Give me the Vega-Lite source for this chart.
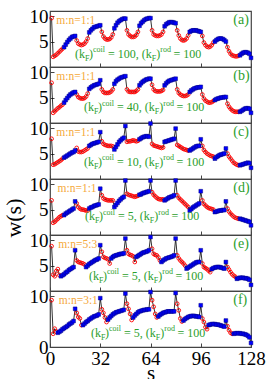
{
"$schema":"https://vega.github.io/schema/vega-lite/v6.json",
"padding":{"left":3,"top":6,"right":0,"bottom":11},
"background":"white",
"spacing":0,
"bounds":"flush",
"title":{"text":"w(s)","orient":"left","anchor":"middle","font":"Liberation Serif","fontSize":22,"fontWeight":"normal","color":"black","offset":2,"dx":-23},
"datasets":{
"pts":[
{"s":1,"a":9.6,"b":7.9,"c":7.9,"d":6.8,"e":8.8,"f":9.2,"k11":"r","k53":"r","k31":"r"},
{"s":2,"a":2.0,"b":2.0,"c":2.8,"d":2.4,"e":3.2,"f":2.6,"k11":"r","k53":"r","k31":"r"},
{"s":3,"a":2.2,"b":2.3,"c":2.9,"d":2.6,"e":2.9,"f":3.6,"k11":"r","k53":"r","k31":"r"},
{"s":4,"a":2.4,"b":2.6,"c":3.1,"d":2.9,"e":3.9,"f":3.0,"k11":"r","k53":"r","k31":"r"},
{"s":5,"a":2.7,"b":2.9,"c":3.3,"d":3.2,"e":4.3,"f":2.8,"k11":"r","k53":"r","k31":"b"},
{"s":6,"a":3.0,"b":3.1,"c":3.5,"d":3.5,"e":3.1,"f":3.0,"k11":"r","k53":"r","k31":"b"},
{"s":7,"a":3.3,"b":3.4,"c":3.7,"d":3.7,"e":2.9,"f":3.2,"k11":"r","k53":"b","k31":"b"},
{"s":8,"a":3.6,"b":3.6,"c":4.0,"d":3.9,"e":3.1,"f":3.5,"k11":"r","k53":"b","k31":"b"},
{"s":9,"a":3.9,"b":4.0,"c":4.2,"d":3.9,"e":3.3,"f":3.7,"k11":"b","k53":"b","k31":"b"},
{"s":10,"a":4.4,"b":4.5,"c":4.4,"d":4.2,"e":3.6,"f":3.9,"k11":"b","k53":"b","k31":"b"},
{"s":11,"a":4.9,"b":4.9,"c":4.6,"d":4.4,"e":3.8,"f":4.1,"k11":"b","k53":"b","k31":"b"},
{"s":12,"a":5.3,"b":5.3,"c":4.8,"d":4.6,"e":4.1,"f":4.4,"k11":"b","k53":"b","k31":"b"},
{"s":13,"a":5.6,"b":5.6,"c":5.0,"d":4.8,"e":4.3,"f":4.6,"k11":"b","k53":"b","k31":"b"},
{"s":14,"a":5.9,"b":5.8,"c":5.2,"d":5.0,"e":4.5,"f":4.8,"k11":"b","k53":"b","k31":"b"},
{"s":15,"a":6.0,"b":6.0,"c":5.3,"d":5.2,"e":4.7,"f":5.1,"k11":"b","k53":"b","k31":"b"},
{"s":16,"a":6.1,"b":6.1,"c":5.6,"d":6.6,"e":8.0,"f":7.5,"k11":"b","k53":"b","k31":"b"},
{"s":17,"a":5.2,"b":5.6,"c":6.1,"d":6.2,"e":6.0,"f":6.7,"k11":"r","k53":"r","k31":"r"},
{"s":18,"a":4.6,"b":5.1,"c":5.4,"d":5.5,"e":5.7,"f":5.9,"k11":"r","k53":"r","k31":"r"},
{"s":19,"a":4.4,"b":4.9,"c":5.3,"d":5.2,"e":5.6,"f":5.6,"k11":"r","k53":"r","k31":"r"},
{"s":20,"a":4.3,"b":4.8,"c":5.3,"d":5.0,"e":5.5,"f":4.3,"k11":"r","k53":"r","k31":"r"},
{"s":21,"a":4.4,"b":4.8,"c":5.4,"d":5.0,"e":5.4,"f":4.3,"k11":"r","k53":"r","k31":"b"},
{"s":22,"a":4.6,"b":4.9,"c":5.6,"d":4.9,"e":5.2,"f":4.6,"k11":"r","k53":"r","k31":"b"},
{"s":23,"a":5.0,"b":5.2,"c":5.8,"d":4.8,"e":4.7,"f":4.9,"k11":"r","k53":"b","k31":"b"},
{"s":24,"a":5.6,"b":5.8,"c":6.0,"d":4.8,"e":5.0,"f":5.1,"k11":"r","k53":"b","k31":"b"},
{"s":25,"a":6.8,"b":6.7,"c":6.5,"d":5.2,"e":5.3,"f":5.4,"k11":"b","k53":"b","k31":"b"},
{"s":26,"a":7.2,"b":7.0,"c":6.7,"d":5.4,"e":5.5,"f":5.6,"k11":"b","k53":"b","k31":"b"},
{"s":27,"a":7.5,"b":7.2,"c":6.9,"d":5.5,"e":5.7,"f":5.8,"k11":"b","k53":"b","k31":"b"},
{"s":28,"a":7.8,"b":7.4,"c":7.0,"d":5.7,"e":5.9,"f":6.0,"k11":"b","k53":"b","k31":"b"},
{"s":29,"a":7.9,"b":7.5,"c":7.1,"d":5.8,"e":6.1,"f":6.1,"k11":"b","k53":"b","k31":"b"},
{"s":30,"a":8.0,"b":7.6,"c":7.2,"d":5.9,"e":6.2,"f":6.2,"k11":"b","k53":"b","k31":"b"},
{"s":31,"a":8.1,"b":7.7,"c":7.3,"d":6.0,"e":6.4,"f":6.4,"k11":"b","k53":"b","k31":"b"},
{"s":32,"a":8.2,"b":8.4,"c":9.2,"d":9.1,"e":9.0,"f":9.6,"k11":"b","k53":"b","k31":"b"},
{"s":33,"a":6.9,"b":6.6,"c":7.4,"d":7.8,"e":7.7,"f":7.4,"k11":"r","k53":"r","k31":"r"},
{"s":34,"a":6.0,"b":6.1,"c":6.9,"d":7.2,"e":6.7,"f":6.7,"k11":"r","k53":"r","k31":"r"},
{"s":35,"a":5.6,"b":5.9,"c":6.7,"d":7.0,"e":6.5,"f":5.8,"k11":"r","k53":"r","k31":"r"},
{"s":36,"a":5.4,"b":5.9,"c":6.6,"d":6.9,"e":6.4,"f":4.9,"k11":"r","k53":"r","k31":"r"},
{"s":37,"a":5.4,"b":5.9,"c":6.5,"d":6.8,"e":6.2,"f":5.4,"k11":"r","k53":"r","k31":"b"},
{"s":38,"a":5.5,"b":6.0,"c":6.5,"d":6.8,"e":5.4,"f":5.8,"k11":"r","k53":"r","k31":"b"},
{"s":39,"a":5.8,"b":6.2,"c":6.5,"d":6.8,"e":6.4,"f":6.1,"k11":"r","k53":"b","k31":"b"},
{"s":40,"a":6.4,"b":6.6,"c":6.4,"d":6.8,"e":6.7,"f":6.4,"k11":"r","k53":"b","k31":"b"},
{"s":41,"a":7.6,"b":7.7,"c":5.8,"d":5.5,"e":6.9,"f":6.6,"k11":"b","k53":"b","k31":"b"},
{"s":42,"a":8.2,"b":8.2,"c":6.3,"d":5.9,"e":7.0,"f":6.8,"k11":"b","k53":"b","k31":"b"},
{"s":43,"a":8.7,"b":8.5,"c":6.8,"d":6.3,"e":7.1,"f":6.9,"k11":"b","k53":"b","k31":"b"},
{"s":44,"a":9.0,"b":8.7,"c":7.3,"d":6.7,"e":7.2,"f":7.0,"k11":"b","k53":"b","k31":"b"},
{"s":45,"a":9.2,"b":8.9,"c":7.6,"d":7.0,"e":7.3,"f":7.1,"k11":"b","k53":"b","k31":"b"},
{"s":46,"a":9.4,"b":9.0,"c":7.9,"d":7.3,"e":7.3,"f":7.2,"k11":"b","k53":"b","k31":"b"},
{"s":47,"a":9.5,"b":9.1,"c":8.1,"d":7.5,"e":7.4,"f":7.3,"k11":"b","k53":"b","k31":"b"},
{"s":48,"a":9.5,"b":9.2,"c":10.4,"d":10.7,"e":10.3,"f":10.5,"k11":"b","k53":"b","k31":"b"},
{"s":49,"a":7.2,"b":6.6,"c":7.3,"d":8.1,"e":8.0,"f":8.5,"k11":"r","k53":"r","k31":"r"},
{"s":50,"a":6.4,"b":6.2,"c":7.4,"d":7.9,"e":7.3,"f":7.5,"k11":"r","k53":"r","k31":"r"},
{"s":51,"a":6.1,"b":6.1,"c":7.4,"d":7.8,"e":7.1,"f":6.5,"k11":"r","k53":"r","k31":"r"},
{"s":52,"a":5.9,"b":6.1,"c":7.5,"d":7.7,"e":7.0,"f":5.3,"k11":"r","k53":"r","k31":"r"},
{"s":53,"a":5.9,"b":6.1,"c":7.6,"d":7.6,"e":6.8,"f":5.8,"k11":"r","k53":"r","k31":"b"},
{"s":54,"a":6.0,"b":6.1,"c":7.5,"d":7.5,"e":5.7,"f":6.2,"k11":"r","k53":"r","k31":"b"},
{"s":55,"a":6.3,"b":6.3,"c":7.4,"d":7.6,"e":6.7,"f":6.5,"k11":"r","k53":"b","k31":"b"},
{"s":56,"a":6.9,"b":6.6,"c":7.5,"d":7.7,"e":6.9,"f":6.8,"k11":"r","k53":"b","k31":"b"},
{"s":57,"a":8.1,"b":7.4,"c":7.8,"d":7.9,"e":7.1,"f":7.0,"k11":"b","k53":"b","k31":"b"},
{"s":58,"a":8.6,"b":7.8,"c":8.0,"d":8.0,"e":7.3,"f":7.1,"k11":"b","k53":"b","k31":"b"},
{"s":59,"a":8.9,"b":8.1,"c":8.2,"d":8.2,"e":7.5,"f":7.2,"k11":"b","k53":"b","k31":"b"},
{"s":60,"a":9.2,"b":8.3,"c":8.3,"d":8.3,"e":7.6,"f":7.3,"k11":"b","k53":"b","k31":"b"},
{"s":61,"a":9.4,"b":8.5,"c":8.4,"d":8.4,"e":7.7,"f":7.3,"k11":"b","k53":"b","k31":"b"},
{"s":62,"a":9.5,"b":8.6,"c":8.4,"d":8.5,"e":7.8,"f":7.4,"k11":"b","k53":"b","k31":"b"},
{"s":63,"a":9.6,"b":8.7,"c":8.3,"d":8.6,"e":8.0,"f":7.4,"k11":"b","k53":"b","k31":"b"},
{"s":64,"a":9.6,"b":8.7,"c":10.9,"d":10.7,"e":10.6,"f":10.8,"k11":"b","k53":"b","k31":"b"},
{"s":65,"a":7.2,"b":7.5,"c":6.9,"d":8.4,"e":8.3,"f":9.2,"k11":"r","k53":"r","k31":"r"},
{"s":66,"a":6.4,"b":6.6,"c":6.6,"d":7.9,"e":7.3,"f":7.9,"k11":"r","k53":"r","k31":"r"},
{"s":67,"a":6.2,"b":6.3,"c":6.5,"d":7.6,"e":7.1,"f":6.5,"k11":"r","k53":"r","k31":"r"},
{"s":68,"a":6.1,"b":6.2,"c":6.4,"d":7.3,"e":7.0,"f":5.8,"k11":"r","k53":"r","k31":"r"},
{"s":69,"a":6.1,"b":6.2,"c":6.3,"d":7.1,"e":6.6,"f":6.0,"k11":"r","k53":"r","k31":"b"},
{"s":70,"a":6.2,"b":6.2,"c":6.2,"d":7.0,"e":6.0,"f":6.3,"k11":"r","k53":"r","k31":"b"},
{"s":71,"a":6.4,"b":6.3,"c":6.1,"d":7.0,"e":5.7,"f":6.5,"k11":"r","k53":"b","k31":"b"},
{"s":72,"a":6.9,"b":6.5,"c":6.2,"d":7.0,"e":6.0,"f":6.7,"k11":"r","k53":"b","k31":"b"},
{"s":73,"a":8.0,"b":7.4,"c":7.3,"d":6.8,"e":6.2,"f":6.8,"k11":"b","k53":"b","k31":"b"},
{"s":74,"a":8.4,"b":7.8,"c":7.4,"d":7.0,"e":6.4,"f":6.9,"k11":"b","k53":"b","k31":"b"},
{"s":75,"a":8.6,"b":8.1,"c":7.5,"d":7.2,"e":6.5,"f":7.0,"k11":"b","k53":"b","k31":"b"},
{"s":76,"a":8.8,"b":8.3,"c":7.6,"d":7.4,"e":6.6,"f":7.0,"k11":"b","k53":"b","k31":"b"},
{"s":77,"a":8.8,"b":8.4,"c":7.7,"d":7.5,"e":6.7,"f":7.0,"k11":"b","k53":"b","k31":"b"},
{"s":78,"a":8.8,"b":8.5,"c":7.8,"d":7.6,"e":6.8,"f":7.0,"k11":"b","k53":"b","k31":"b"},
{"s":79,"a":8.7,"b":8.6,"c":7.9,"d":7.8,"e":7.0,"f":7.0,"k11":"b","k53":"b","k31":"b"},
{"s":80,"a":8.6,"b":8.7,"c":9.9,"d":10.7,"e":10.3,"f":10.6,"k11":"b","k53":"b","k31":"b"},
{"s":81,"a":7.2,"b":6.6,"c":6.7,"d":7.8,"e":7.0,"f":8.5,"k11":"r","k53":"r","k31":"r"},
{"s":82,"a":6.2,"b":5.9,"c":6.5,"d":7.3,"e":6.4,"f":7.2,"k11":"r","k53":"r","k31":"r"},
{"s":83,"a":5.6,"b":5.6,"c":6.3,"d":7.0,"e":6.0,"f":5.6,"k11":"r","k53":"r","k31":"r"},
{"s":84,"a":5.3,"b":5.4,"c":6.1,"d":6.7,"e":5.7,"f":5.0,"k11":"r","k53":"r","k31":"r"},
{"s":85,"a":5.2,"b":5.3,"c":5.9,"d":6.4,"e":5.4,"f":5.2,"k11":"r","k53":"r","k31":"b"},
{"s":86,"a":5.3,"b":5.3,"c":5.8,"d":6.1,"e":5.0,"f":5.5,"k11":"r","k53":"r","k31":"b"},
{"s":87,"a":5.6,"b":5.4,"c":5.7,"d":5.8,"e":4.4,"f":5.7,"k11":"r","k53":"b","k31":"b"},
{"s":88,"a":6.2,"b":5.6,"c":5.6,"d":5.5,"e":4.6,"f":5.9,"k11":"r","k53":"b","k31":"b"},
{"s":89,"a":6.9,"b":6.1,"c":5.6,"d":4.8,"e":4.8,"f":6.0,"k11":"b","k53":"b","k31":"b"},
{"s":90,"a":7.1,"b":6.4,"c":5.8,"d":5.1,"e":5.0,"f":6.1,"k11":"b","k53":"b","k31":"b"},
{"s":91,"a":7.2,"b":6.6,"c":6.0,"d":5.4,"e":5.2,"f":6.1,"k11":"b","k53":"b","k31":"b"},
{"s":92,"a":7.2,"b":6.8,"c":6.2,"d":5.6,"e":5.4,"f":6.1,"k11":"b","k53":"b","k31":"b"},
{"s":93,"a":7.2,"b":6.9,"c":6.4,"d":5.8,"e":5.6,"f":6.0,"k11":"b","k53":"b","k31":"b"},
{"s":94,"a":7.1,"b":7.0,"c":6.5,"d":6.0,"e":5.7,"f":6.0,"k11":"b","k53":"b","k31":"b"},
{"s":95,"a":7.0,"b":7.0,"c":6.5,"d":6.2,"e":5.7,"f":5.9,"k11":"b","k53":"b","k31":"b"},
{"s":96,"a":6.9,"b":7.1,"c":7.8,"d":8.6,"e":8.0,"f":8.2,"k11":"b","k53":"b","k31":"b"},
{"s":97,"a":6.1,"b":5.6,"c":6.5,"d":6.8,"e":5.4,"f":5.6,"k11":"r","k53":"r","k31":"r"},
{"s":98,"a":4.8,"b":4.8,"c":5.7,"d":6.1,"e":4.7,"f":4.9,"k11":"r","k53":"r","k31":"r"},
{"s":99,"a":4.3,"b":4.4,"c":5.3,"d":5.8,"e":4.5,"f":3.9,"k11":"r","k53":"r","k31":"r"},
{"s":100,"a":4.0,"b":4.2,"c":5.0,"d":5.5,"e":4.3,"f":3.5,"k11":"r","k53":"r","k31":"r"},
{"s":101,"a":3.9,"b":4.0,"c":4.8,"d":5.3,"e":4.0,"f":4.3,"k11":"r","k53":"r","k31":"b"},
{"s":102,"a":4.0,"b":4.0,"c":4.6,"d":5.2,"e":3.7,"f":4.4,"k11":"r","k53":"r","k31":"b"},
{"s":103,"a":4.3,"b":4.1,"c":4.5,"d":5.1,"e":4.3,"f":4.5,"k11":"r","k53":"b","k31":"b"},
{"s":104,"a":4.8,"b":4.3,"c":4.4,"d":5.0,"e":4.5,"f":4.5,"k11":"r","k53":"b","k31":"b"},
{"s":105,"a":5.0,"b":4.5,"c":4.0,"d":4.5,"e":4.6,"f":4.5,"k11":"b","k53":"b","k31":"b"},
{"s":106,"a":5.3,"b":4.7,"c":4.3,"d":4.6,"e":4.7,"f":4.4,"k11":"b","k53":"b","k31":"b"},
{"s":107,"a":5.5,"b":4.8,"c":4.5,"d":4.7,"e":4.7,"f":4.4,"k11":"b","k53":"b","k31":"b"},
{"s":108,"a":5.6,"b":4.9,"c":4.7,"d":4.8,"e":4.7,"f":4.3,"k11":"b","k53":"b","k31":"b"},
{"s":109,"a":5.6,"b":5.0,"c":4.8,"d":4.8,"e":4.6,"f":4.2,"k11":"b","k53":"b","k31":"b"},
{"s":110,"a":5.5,"b":5.0,"c":4.9,"d":4.9,"e":4.5,"f":4.1,"k11":"b","k53":"b","k31":"b"},
{"s":111,"a":5.3,"b":5.1,"c":5.0,"d":4.9,"e":4.4,"f":4.0,"k11":"b","k53":"b","k31":"b"},
{"s":112,"a":5.0,"b":5.1,"c":6.0,"d":6.6,"e":5.7,"f":5.2,"k11":"b","k53":"b","k31":"b"},
{"s":113,"a":3.9,"b":3.8,"c":5.0,"d":5.2,"e":4.7,"f":4.1,"k11":"r","k53":"r","k31":"r"},
{"s":114,"a":3.1,"b":3.2,"c":4.4,"d":4.6,"e":4.2,"f":3.3,"k11":"r","k53":"r","k31":"r"},
{"s":115,"a":2.6,"b":2.8,"c":4.0,"d":4.2,"e":3.7,"f":2.8,"k11":"r","k53":"r","k31":"r"},
{"s":116,"a":2.3,"b":2.5,"c":3.6,"d":3.9,"e":3.3,"f":2.6,"k11":"r","k53":"r","k31":"r"},
{"s":117,"a":2.2,"b":2.3,"c":3.2,"d":3.6,"e":3.0,"f":2.6,"k11":"r","k53":"r","k31":"b"},
{"s":118,"a":2.1,"b":2.2,"c":3.0,"d":3.4,"e":2.8,"f":2.7,"k11":"r","k53":"r","k31":"b"},
{"s":119,"a":2.1,"b":2.2,"c":2.8,"d":3.3,"e":2.4,"f":2.7,"k11":"r","k53":"b","k31":"b"},
{"s":120,"a":2.2,"b":2.2,"c":2.7,"d":3.2,"e":2.5,"f":2.7,"k11":"r","k53":"b","k31":"b"},
{"s":121,"a":2.3,"b":2.2,"c":2.7,"d":3.2,"e":2.6,"f":2.7,"k11":"b","k53":"b","k31":"b"},
{"s":122,"a":2.6,"b":2.4,"c":2.8,"d":3.1,"e":2.6,"f":2.6,"k11":"b","k53":"b","k31":"b"},
{"s":123,"a":2.8,"b":2.6,"c":2.9,"d":3.0,"e":2.6,"f":2.6,"k11":"b","k53":"b","k31":"b"},
{"s":124,"a":2.9,"b":2.8,"c":3.0,"d":2.9,"e":2.5,"f":2.5,"k11":"b","k53":"b","k31":"b"},
{"s":125,"a":2.9,"b":2.9,"c":3.1,"d":2.8,"e":2.5,"f":2.4,"k11":"b","k53":"b","k31":"b"},
{"s":126,"a":2.8,"b":2.9,"c":3.2,"d":2.7,"e":2.4,"f":2.2,"k11":"b","k53":"b","k31":"b"},
{"s":127,"a":2.6,"b":2.8,"c":3.1,"d":2.6,"e":2.2,"f":1.9,"k11":"b","k53":"b","k31":"b"},
{"s":128,"a":1.8,"b":2.0,"c":2.2,"d":1.9,"e":1.2,"f":0.8,"k11":"b","k53":"b","k31":"b"}
],
"txt":[
{"p":"a","k":"m","x":15.92,"y":1.77,"t":"(k"},
{"p":"a","k":"b","x":22.29,"y":1.17,"t":"F"},
{"p":"a","k":"m","x":24.84,"y":1.77,"t":")"},
{"p":"a","k":"p","x":27.38,"y":2.87,"t":"coil"},
{"p":"a","k":"m","x":36.94,"y":1.77,"t":"= 100, (k"},
{"p":"a","k":"b","x":64.78,"y":1.17,"t":"F"},
{"p":"a","k":"m","x":67.64,"y":1.77,"t":")"},
{"p":"a","k":"p","x":70.19,"y":2.87,"t":"rod"},
{"p":"a","k":"m","x":78.65,"y":1.77,"t":"= 100"},
{"p":"a","k":"i","x":116.7,"y":8.4,"t":"(a)"},
{"p":"a","k":"r","x":4.0,"y":8.5,"t":"m:n=1:1"},
{"p":"b","k":"m","x":21.65,"y":2.3,"t":"(k"},
{"p":"b","k":"b","x":28.02,"y":1.7,"t":"F"},
{"p":"b","k":"m","x":30.57,"y":2.3,"t":")"},
{"p":"b","k":"p","x":33.11,"y":3.4,"t":"coil"},
{"p":"b","k":"m","x":42.67,"y":2.3,"t":"= 40, (k"},
{"p":"b","k":"b","x":66.74,"y":1.7,"t":"F"},
{"p":"b","k":"m","x":69.6,"y":2.3,"t":")"},
{"p":"b","k":"p","x":72.15,"y":3.4,"t":"rod"},
{"p":"b","k":"m","x":80.56,"y":2.3,"t":"= 100"},
{"p":"b","k":"i","x":116.7,"y":8.4,"t":"(b)"},
{"p":"b","k":"r","x":4.0,"y":8.5,"t":"m:n=1:1"},
{"p":"c","k":"m","x":21.65,"y":2.55,"t":"(k"},
{"p":"c","k":"b","x":28.02,"y":1.95,"t":"F"},
{"p":"c","k":"m","x":30.57,"y":2.55,"t":")"},
{"p":"c","k":"p","x":33.11,"y":3.65,"t":"coil"},
{"p":"c","k":"m","x":42.67,"y":2.55,"t":"= 10, (k"},
{"p":"c","k":"b","x":66.74,"y":1.95,"t":"F"},
{"p":"c","k":"m","x":69.6,"y":2.55,"t":")"},
{"p":"c","k":"p","x":72.15,"y":3.65,"t":"rod"},
{"p":"c","k":"m","x":80.56,"y":2.55,"t":"= 100"},
{"p":"c","k":"i","x":116.7,"y":8.4,"t":"(c)"},
{"p":"c","k":"r","x":4.0,"y":8.5,"t":"m:n=1:1"},
{"p":"d","k":"m","x":22.29,"y":2.9,"t":"(k"},
{"p":"d","k":"b","x":28.66,"y":2.3,"t":"F"},
{"p":"d","k":"m","x":31.2,"y":2.9,"t":")"},
{"p":"d","k":"p","x":33.75,"y":4.0,"t":"coil"},
{"p":"d","k":"m","x":43.3,"y":2.9,"t":"= 5, (k"},
{"p":"d","k":"b","x":63.55,"y":2.3,"t":"F"},
{"p":"d","k":"m","x":66.42,"y":2.9,"t":")"},
{"p":"d","k":"p","x":68.97,"y":4.0,"t":"rod"},
{"p":"d","k":"m","x":77.37,"y":2.9,"t":"= 100"},
{"p":"d","k":"i","x":116.7,"y":8.4,"t":"(d)"},
{"p":"d","k":"r","x":4.8,"y":8.5,"t":"m:n=1:1"},
{"p":"e","k":"m","x":24.84,"y":2.24,"t":"(k"},
{"p":"e","k":"b","x":31.2,"y":1.64,"t":"F"},
{"p":"e","k":"m","x":33.75,"y":2.24,"t":")"},
{"p":"e","k":"p","x":36.3,"y":3.34,"t":"coil"},
{"p":"e","k":"m","x":45.85,"y":2.24,"t":"= 5, (k"},
{"p":"e","k":"b","x":66.1,"y":1.64,"t":"F"},
{"p":"e","k":"m","x":68.97,"y":2.24,"t":")"},
{"p":"e","k":"p","x":71.52,"y":3.34,"t":"rod"},
{"p":"e","k":"m","x":79.92,"y":2.24,"t":"= 100"},
{"p":"e","k":"i","x":116.7,"y":8.4,"t":"(e)"},
{"p":"e","k":"r","x":5.2,"y":8.5,"t":"m:n=5:3"},
{"p":"f","k":"m","x":26.11,"y":1.96,"t":"(k"},
{"p":"f","k":"b","x":32.48,"y":1.36,"t":"F"},
{"p":"f","k":"m","x":35.03,"y":1.96,"t":")"},
{"p":"f","k":"p","x":37.57,"y":3.06,"t":"coil"},
{"p":"f","k":"m","x":47.13,"y":1.96,"t":"= 5, (k"},
{"p":"f","k":"b","x":67.38,"y":1.36,"t":"F"},
{"p":"f","k":"m","x":70.24,"y":1.96,"t":")"},
{"p":"f","k":"p","x":72.79,"y":3.06,"t":"rod"},
{"p":"f","k":"m","x":81.2,"y":1.96,"t":"= 100"},
{"p":"f","k":"i","x":116.7,"y":8.4,"t":"(f)"},
{"p":"f","k":"r","x":5.6,"y":8.5,"t":"m:n=3:1"}
]
},
"data":{"name":"pts"},
"config":{
"view":{"stroke":"#444444","strokeWidth":1.2},
"axis":{"grid":false,"domain":false,"labelFont":"Liberation Serif","labelFontSize":19,"labelColor":"black","titleFont":"Liberation Serif","titleFontSize":21,"titleFontWeight":"normal","titleColor":"black","tickColor":"#444444","tickSize":-4,"labelFlush":false,"labelOverlap":false,"labelPadding":6},
"text":{"font":"Liberation Serif","align":"left","baseline":"alphabetic"}
},
"vconcat":[
{"width":201,"height":56,"layer":[
{"mark":{"type":"line","color":"black","strokeWidth":0.8},"encoding":{"x":{"field":"s","type":"quantitative","scale":{"domain":[0,128],"nice":false},"axis":{"labels":false,"values":[0,16,32,48,64,80,96,112,128]},"title":null},"y":{"field":"a","type":"quantitative","scale":{"domain":[0,11],"nice":false},"axis":{"values":[5,10]},"title":null}}},
{"transform":[{"filter":"datum.k11=='r'"}],"mark":{"type":"point","shape":"circle","filled":false,"color":"#ff0000","strokeWidth":0.9,"size":14,"opacity":1},"encoding":{"x":{"field":"s","type":"quantitative","title":null},"y":{"field":"a","type":"quantitative","title":null}}},
{"transform":[{"filter":"datum.k11=='b'"}],"mark":{"type":"square","color":"#0000ff","stroke":"#000080","strokeWidth":0.5,"size":14,"opacity":1},"encoding":{"x":{"field":"s","type":"quantitative","title":null},"y":{"field":"a","type":"quantitative","title":null}}},
{"data":{"name":"txt"},"transform":[{"filter":"datum.p=='a' && datum.k=='m'"}],"mark":{"type":"text","fontSize":12,"color":"#2ca02c"},"encoding":{"x":{"field":"x","type":"quantitative","title":null},"y":{"field":"y","type":"quantitative","title":null},"text":{"field":"t"}}},
{"data":{"name":"txt"},"transform":[{"filter":"datum.p=='a' && (datum.k=='b' || datum.k=='p')"}],"mark":{"type":"text","fontSize":8,"color":"#2ca02c"},"encoding":{"x":{"field":"x","type":"quantitative","title":null},"y":{"field":"y","type":"quantitative","title":null},"text":{"field":"t"}}},
{"data":{"name":"txt"},"transform":[{"filter":"datum.p=='a' && datum.k=='i'"}],"mark":{"type":"text","fontSize":14,"color":"#2ca02c"},"encoding":{"x":{"field":"x","type":"quantitative","title":null},"y":{"field":"y","type":"quantitative","title":null},"text":{"field":"t"}}},
{"data":{"name":"txt"},"transform":[{"filter":"datum.p=='a' && datum.k=='r'"}],"mark":{"type":"text","fontSize":11.5,"color":"#f5a93b"},"encoding":{"x":{"field":"x","type":"quantitative","title":null},"y":{"field":"y","type":"quantitative","title":null},"text":{"field":"t"}}}
]},
{"width":201,"height":56,"layer":[
{"mark":{"type":"line","color":"black","strokeWidth":0.8},"encoding":{"x":{"field":"s","type":"quantitative","scale":{"domain":[0,128],"nice":false},"axis":{"labels":false,"values":[0,16,32,48,64,80,96,112,128]},"title":null},"y":{"field":"b","type":"quantitative","scale":{"domain":[0,11],"nice":false},"axis":{"values":[5,10]},"title":null}}},
{"transform":[{"filter":"datum.k11=='r'"}],"mark":{"type":"point","shape":"circle","filled":false,"color":"#ff0000","strokeWidth":0.9,"size":14,"opacity":1},"encoding":{"x":{"field":"s","type":"quantitative","title":null},"y":{"field":"b","type":"quantitative","title":null}}},
{"transform":[{"filter":"datum.k11=='b'"}],"mark":{"type":"square","color":"#0000ff","stroke":"#000080","strokeWidth":0.5,"size":14,"opacity":1},"encoding":{"x":{"field":"s","type":"quantitative","title":null},"y":{"field":"b","type":"quantitative","title":null}}},
{"data":{"name":"txt"},"transform":[{"filter":"datum.p=='b' && datum.k=='m'"}],"mark":{"type":"text","fontSize":12,"color":"#2ca02c"},"encoding":{"x":{"field":"x","type":"quantitative","title":null},"y":{"field":"y","type":"quantitative","title":null},"text":{"field":"t"}}},
{"data":{"name":"txt"},"transform":[{"filter":"datum.p=='b' && (datum.k=='b' || datum.k=='p')"}],"mark":{"type":"text","fontSize":8,"color":"#2ca02c"},"encoding":{"x":{"field":"x","type":"quantitative","title":null},"y":{"field":"y","type":"quantitative","title":null},"text":{"field":"t"}}},
{"data":{"name":"txt"},"transform":[{"filter":"datum.p=='b' && datum.k=='i'"}],"mark":{"type":"text","fontSize":14,"color":"#2ca02c"},"encoding":{"x":{"field":"x","type":"quantitative","title":null},"y":{"field":"y","type":"quantitative","title":null},"text":{"field":"t"}}},
{"data":{"name":"txt"},"transform":[{"filter":"datum.p=='b' && datum.k=='r'"}],"mark":{"type":"text","fontSize":11.5,"color":"#f5a93b"},"encoding":{"x":{"field":"x","type":"quantitative","title":null},"y":{"field":"y","type":"quantitative","title":null},"text":{"field":"t"}}}
]},
{"width":201,"height":56,"layer":[
{"mark":{"type":"line","color":"black","strokeWidth":0.8},"encoding":{"x":{"field":"s","type":"quantitative","scale":{"domain":[0,128],"nice":false},"axis":{"labels":false,"values":[0,16,32,48,64,80,96,112,128]},"title":null},"y":{"field":"c","type":"quantitative","scale":{"domain":[0,11],"nice":false},"axis":{"values":[5,10]},"title":null}}},
{"transform":[{"filter":"datum.k11=='r'"}],"mark":{"type":"point","shape":"circle","filled":false,"color":"#ff0000","strokeWidth":0.9,"size":14,"opacity":1},"encoding":{"x":{"field":"s","type":"quantitative","title":null},"y":{"field":"c","type":"quantitative","title":null}}},
{"transform":[{"filter":"datum.k11=='b'"}],"mark":{"type":"square","color":"#0000ff","stroke":"#000080","strokeWidth":0.5,"size":14,"opacity":1},"encoding":{"x":{"field":"s","type":"quantitative","title":null},"y":{"field":"c","type":"quantitative","title":null}}},
{"data":{"name":"txt"},"transform":[{"filter":"datum.p=='c' && datum.k=='m'"}],"mark":{"type":"text","fontSize":12,"color":"#2ca02c"},"encoding":{"x":{"field":"x","type":"quantitative","title":null},"y":{"field":"y","type":"quantitative","title":null},"text":{"field":"t"}}},
{"data":{"name":"txt"},"transform":[{"filter":"datum.p=='c' && (datum.k=='b' || datum.k=='p')"}],"mark":{"type":"text","fontSize":8,"color":"#2ca02c"},"encoding":{"x":{"field":"x","type":"quantitative","title":null},"y":{"field":"y","type":"quantitative","title":null},"text":{"field":"t"}}},
{"data":{"name":"txt"},"transform":[{"filter":"datum.p=='c' && datum.k=='i'"}],"mark":{"type":"text","fontSize":14,"color":"#2ca02c"},"encoding":{"x":{"field":"x","type":"quantitative","title":null},"y":{"field":"y","type":"quantitative","title":null},"text":{"field":"t"}}},
{"data":{"name":"txt"},"transform":[{"filter":"datum.p=='c' && datum.k=='r'"}],"mark":{"type":"text","fontSize":11.5,"color":"#f5a93b"},"encoding":{"x":{"field":"x","type":"quantitative","title":null},"y":{"field":"y","type":"quantitative","title":null},"text":{"field":"t"}}}
]},
{"width":201,"height":56,"layer":[
{"mark":{"type":"line","color":"black","strokeWidth":0.8},"encoding":{"x":{"field":"s","type":"quantitative","scale":{"domain":[0,128],"nice":false},"axis":{"labels":false,"values":[0,16,32,48,64,80,96,112,128]},"title":null},"y":{"field":"d","type":"quantitative","scale":{"domain":[0,11],"nice":false},"axis":{"values":[5,10]},"title":null}}},
{"transform":[{"filter":"datum.k11=='r'"}],"mark":{"type":"point","shape":"circle","filled":false,"color":"#ff0000","strokeWidth":0.9,"size":14,"opacity":1},"encoding":{"x":{"field":"s","type":"quantitative","title":null},"y":{"field":"d","type":"quantitative","title":null}}},
{"transform":[{"filter":"datum.k11=='b'"}],"mark":{"type":"square","color":"#0000ff","stroke":"#000080","strokeWidth":0.5,"size":14,"opacity":1},"encoding":{"x":{"field":"s","type":"quantitative","title":null},"y":{"field":"d","type":"quantitative","title":null}}},
{"data":{"name":"txt"},"transform":[{"filter":"datum.p=='d' && datum.k=='m'"}],"mark":{"type":"text","fontSize":12,"color":"#2ca02c"},"encoding":{"x":{"field":"x","type":"quantitative","title":null},"y":{"field":"y","type":"quantitative","title":null},"text":{"field":"t"}}},
{"data":{"name":"txt"},"transform":[{"filter":"datum.p=='d' && (datum.k=='b' || datum.k=='p')"}],"mark":{"type":"text","fontSize":8,"color":"#2ca02c"},"encoding":{"x":{"field":"x","type":"quantitative","title":null},"y":{"field":"y","type":"quantitative","title":null},"text":{"field":"t"}}},
{"data":{"name":"txt"},"transform":[{"filter":"datum.p=='d' && datum.k=='i'"}],"mark":{"type":"text","fontSize":14,"color":"#2ca02c"},"encoding":{"x":{"field":"x","type":"quantitative","title":null},"y":{"field":"y","type":"quantitative","title":null},"text":{"field":"t"}}},
{"data":{"name":"txt"},"transform":[{"filter":"datum.p=='d' && datum.k=='r'"}],"mark":{"type":"text","fontSize":11.5,"color":"#f5a93b"},"encoding":{"x":{"field":"x","type":"quantitative","title":null},"y":{"field":"y","type":"quantitative","title":null},"text":{"field":"t"}}}
]},
{"width":201,"height":56,"layer":[
{"mark":{"type":"line","color":"black","strokeWidth":0.8},"encoding":{"x":{"field":"s","type":"quantitative","scale":{"domain":[0,128],"nice":false},"axis":{"labels":false,"values":[0,16,32,48,64,80,96,112,128]},"title":null},"y":{"field":"e","type":"quantitative","scale":{"domain":[0,11],"nice":false},"axis":{"values":[5,10]},"title":null}}},
{"transform":[{"filter":"datum.k53=='r'"}],"mark":{"type":"point","shape":"circle","filled":false,"color":"#ff0000","strokeWidth":0.9,"size":14,"opacity":1},"encoding":{"x":{"field":"s","type":"quantitative","title":null},"y":{"field":"e","type":"quantitative","title":null}}},
{"transform":[{"filter":"datum.k53=='b'"}],"mark":{"type":"square","color":"#0000ff","stroke":"#000080","strokeWidth":0.5,"size":14,"opacity":1},"encoding":{"x":{"field":"s","type":"quantitative","title":null},"y":{"field":"e","type":"quantitative","title":null}}},
{"data":{"name":"txt"},"transform":[{"filter":"datum.p=='e' && datum.k=='m'"}],"mark":{"type":"text","fontSize":12,"color":"#2ca02c"},"encoding":{"x":{"field":"x","type":"quantitative","title":null},"y":{"field":"y","type":"quantitative","title":null},"text":{"field":"t"}}},
{"data":{"name":"txt"},"transform":[{"filter":"datum.p=='e' && (datum.k=='b' || datum.k=='p')"}],"mark":{"type":"text","fontSize":8,"color":"#2ca02c"},"encoding":{"x":{"field":"x","type":"quantitative","title":null},"y":{"field":"y","type":"quantitative","title":null},"text":{"field":"t"}}},
{"data":{"name":"txt"},"transform":[{"filter":"datum.p=='e' && datum.k=='i'"}],"mark":{"type":"text","fontSize":14,"color":"#2ca02c"},"encoding":{"x":{"field":"x","type":"quantitative","title":null},"y":{"field":"y","type":"quantitative","title":null},"text":{"field":"t"}}},
{"data":{"name":"txt"},"transform":[{"filter":"datum.p=='e' && datum.k=='r'"}],"mark":{"type":"text","fontSize":11.5,"color":"#f5a93b"},"encoding":{"x":{"field":"x","type":"quantitative","title":null},"y":{"field":"y","type":"quantitative","title":null},"text":{"field":"t"}}}
]},
{"width":201,"height":56,"layer":[
{"mark":{"type":"line","color":"black","strokeWidth":0.8},"encoding":{"x":{"field":"s","type":"quantitative","scale":{"domain":[0,128],"nice":false},"axis":{"labels":true,"values":[0,16,32,48,64,80,96,112,128],"labelOverlap":false,"labelExpr":"(datum.value == 0 || datum.value == 32 || datum.value == 64 || datum.value == 96 || datum.value == 128) ? datum.label : ''","titlePadding":-6},"title":"s"},"y":{"field":"f","type":"quantitative","scale":{"domain":[0,11],"nice":false},"axis":{"values":[0,5,10]},"title":null}}},
{"transform":[{"filter":"datum.k31=='r'"}],"mark":{"type":"point","shape":"circle","filled":false,"color":"#ff0000","strokeWidth":0.9,"size":14,"opacity":1},"encoding":{"x":{"field":"s","type":"quantitative","title":"s"},"y":{"field":"f","type":"quantitative","title":null}}},
{"transform":[{"filter":"datum.k31=='b'"}],"mark":{"type":"square","color":"#0000ff","stroke":"#000080","strokeWidth":0.5,"size":14,"opacity":1},"encoding":{"x":{"field":"s","type":"quantitative","title":"s"},"y":{"field":"f","type":"quantitative","title":null}}},
{"data":{"name":"txt"},"transform":[{"filter":"datum.p=='f' && datum.k=='m'"}],"mark":{"type":"text","fontSize":12,"color":"#2ca02c"},"encoding":{"x":{"field":"x","type":"quantitative","title":"s"},"y":{"field":"y","type":"quantitative","title":null},"text":{"field":"t"}}},
{"data":{"name":"txt"},"transform":[{"filter":"datum.p=='f' && (datum.k=='b' || datum.k=='p')"}],"mark":{"type":"text","fontSize":8,"color":"#2ca02c"},"encoding":{"x":{"field":"x","type":"quantitative","title":"s"},"y":{"field":"y","type":"quantitative","title":null},"text":{"field":"t"}}},
{"data":{"name":"txt"},"transform":[{"filter":"datum.p=='f' && datum.k=='i'"}],"mark":{"type":"text","fontSize":14,"color":"#2ca02c"},"encoding":{"x":{"field":"x","type":"quantitative","title":"s"},"y":{"field":"y","type":"quantitative","title":null},"text":{"field":"t"}}},
{"data":{"name":"txt"},"transform":[{"filter":"datum.p=='f' && datum.k=='r'"}],"mark":{"type":"text","fontSize":11.5,"color":"#f5a93b"},"encoding":{"x":{"field":"x","type":"quantitative","title":"s"},"y":{"field":"y","type":"quantitative","title":null},"text":{"field":"t"}}}
]}
]
}
